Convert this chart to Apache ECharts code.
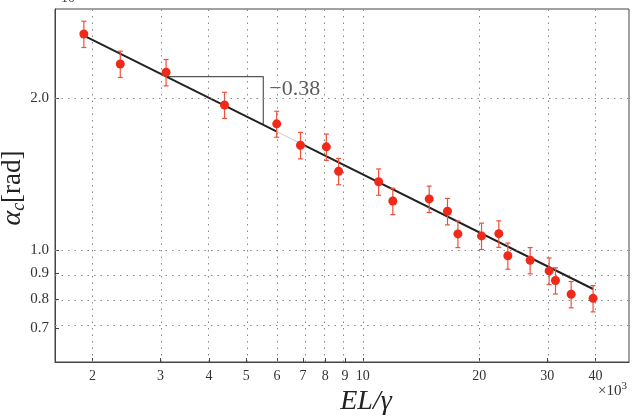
<!DOCTYPE html>
<html>
<head>
<meta charset="utf-8">
<script src="https://cdn.jsdelivr.net/npm/echarts@6/dist/echarts.min.js"></script>
<style>
  html, body { margin: 0; padding: 0; background: #fff; }
  #main { width: 637px; height: 417px; }
</style>
</head>
<body>
<div id="main"></div>
<script>
// tick labels
var xTicks = [2, 3, 4, 5, 6, 7, 8, 9, 10, 20, 30, 40];
var yTicks = [0.7, 0.8, 0.9, 1.0, 2.0];

// measurements (EL/gamma in 10^3, alpha_c)
var elGamma = [1.90, 2.36, 3.10, 4.39, 5.99, 6.90, 8.05, 8.66, 10.99, 11.96, 14.85,
               16.56, 17.62, 20.28, 22.48, 23.72, 27.09, 30.33, 31.50, 34.58, 39.4];
var alphaC  = [2.677, 2.335, 2.248, 1.937, 1.777, 1.612, 1.600, 1.432, 1.365, 1.250, 1.262,
               1.193, 1.076, 1.066, 1.077, 0.974, 0.954, 0.909, 0.870, 0.817, 0.802];
var alphaErr = [0.160, 0.140, 0.135, 0.115, 0.105, 0.097, 0.096, 0.086, 0.082, 0.075, 0.076,
                0.072, 0.065, 0.064, 0.065, 0.058, 0.057, 0.055, 0.052, 0.049, 0.048];

// fitted power law, slope -0.38 (end points)
var fitX = [1.90, 5.98, 6.90, 39.4];
var fitY = [2.657, 1.717, 1.626, 0.837];

// slope triangle
var triX = [3.10, 5.53, 5.53];
var triY = [2.205, 2.205, 1.769];
var slopeLabel = '\u22120.38';

var L = Math.log10;
var serif = "'Liberation Serif', 'DejaVu Serif', serif";

var pts = elGamma.map(function (x, i) { return [L(x), L(alphaC[i])]; });
var bars = elGamma.map(function (x, i) {
    return [L(x), L(alphaC[i] - alphaErr[i]), L(alphaC[i] + alphaErr[i])];
});
function seg(a, b) { return [[L(fitX[a]), L(fitY[a])], [L(fitX[b]), L(fitY[b])]]; }

var gridLines = [];
xTicks.forEach(function (v) { gridLines.push({ xAxis: L(v) }); });
yTicks.forEach(function (v) { gridLines.push({ yAxis: L(v) }); });

var myChart = echarts.init(document.getElementById('main'));
var option = {
    animation: false,
    grid: { left: 55, right: 8, top: 9, bottom: 55, show: true, borderColor: '#444', borderWidth: 1 },
    xAxis: {
        type: 'value', min: L(1.6), max: L(48.8),
        axisLine: { show: true, onZero: false, lineStyle: { color: '#444' } },
        axisTick: { show: true, inside: true, length: 4, customValues: xTicks.map(L), lineStyle: { color: '#444' } },
        axisLabel: {
            customValues: xTicks.map(L), margin: 7,
            formatter: function (v) { return String(Math.round(Math.pow(10, v))); },
            fontFamily: serif, fontSize: 14, color: '#333'
        },
        splitLine: { show: false }
    },
    yAxis: {
        type: 'value', min: L(0.6), max: L(3.0),
        axisLine: { show: true, onZero: false, lineStyle: { color: '#444' } },
        axisTick: { show: true, inside: true, length: 4, customValues: yTicks.map(L), lineStyle: { color: '#444' } },
        axisLabel: {
            customValues: yTicks.map(L), margin: 6,
            formatter: function (v) { return Math.pow(10, v).toFixed(1); },
            fontFamily: serif, fontSize: 15, color: '#333'
        },
        splitLine: { show: false }
    },
    graphic: [
        { type: 'text', left: 53, top: -9, style: { text: '\u00d710', font: '14px ' + serif, fill: '#444' } },
        { type: 'text', x: 13, y: 188, rotation: Math.PI / 2,
          style: {
              text: '{a|\u03b1}{s|c}{r|[rad]}', align: 'center', verticalAlign: 'middle',
              rich: {
                  a: { fontFamily: serif, fontStyle: 'italic', fontSize: 28, fill: '#222' },
                  s: { fontFamily: serif, fontStyle: 'italic', fontSize: 18, fill: '#222', padding: [12, 0, 0, 0] },
                  r: { fontFamily: serif, fontSize: 27, fill: '#222' }
              }
          } },
        { type: 'text', x: 366, y: 402,
          style: { text: 'EL/\u03b3', font: 'italic 28px ' + serif, fill: '#222', align: 'center', verticalAlign: 'middle' } },
        { type: 'text', x: 598, y: 391,
          style: { text: '\u00d710{e|3}', font: '15px ' + serif, fill: '#333', verticalAlign: 'middle',
                   rich: { e: { fontFamily: serif, fontSize: 11, fill: '#333', padding: [0, 0, 9, 0] } } } }
    ],
    series: [
        {
            type: 'line', data: [], silent: true,
            markLine: {
                silent: true, symbol: 'none', label: { show: false },
                lineStyle: { color: '#888', type: [1.5, 5], width: 1 },
                data: gridLines
            }
        },
        { type: 'line', data: seg(0, 1), symbol: 'none', lineStyle: { color: '#222', width: 2 }, z: 3 },
        { type: 'line', data: seg(1, 2), symbol: 'none', lineStyle: { color: '#c8c8c8', width: 1 }, z: 3 },
        { type: 'line', data: seg(2, 3), symbol: 'none', lineStyle: { color: '#222', width: 2 }, z: 3 },
        {
            type: 'line', symbol: 'none', z: 2,
            data: triX.map(function (x, i) { return [L(x), L(triY[i])]; }),
            lineStyle: { color: '#555', width: 1.2 }
        },
        {
            type: 'scatter', symbolSize: 0, z: 2,
            data: [[L(triX[1]), L(2.084)]],
            label: { show: true, position: 'right', distance: 6, formatter: slopeLabel,
                     fontFamily: serif, fontSize: 22, color: '#333' }
        },
        {
            type: 'custom', z: 4,
            data: bars,
            renderItem: function (params, api) {
                var top = api.coord([api.value(0), api.value(2)]);
                var bot = api.coord([api.value(0), api.value(1)]);
                var st = { stroke: '#f0503a', lineWidth: 1.2 };
                return {
                    type: 'group',
                    children: [
                        { type: 'line', shape: { x1: top[0], y1: top[1], x2: bot[0], y2: bot[1] }, style: st },
                        { type: 'line', shape: { x1: top[0] - 2.5, y1: top[1], x2: top[0] + 2.5, y2: top[1] }, style: st },
                        { type: 'line', shape: { x1: bot[0] - 2.5, y1: bot[1], x2: bot[0] + 2.5, y2: bot[1] }, style: st }
                    ]
                };
            }
        },
        {
            type: 'scatter', data: pts, symbolSize: 9, z: 5,
            itemStyle: { color: '#f02a1a', opacity: 1 }
        }
    ]
};
myChart.setOption(option);
</script>
</body>
</html>
